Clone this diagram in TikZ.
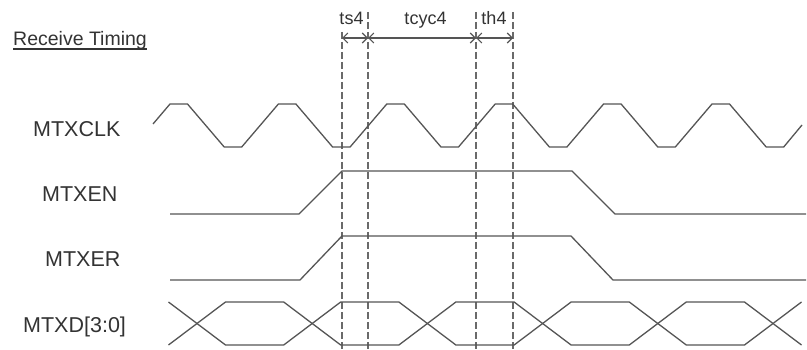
\documentclass[tikz,border=0pt]{standalone}
\usepackage{fontspec}
\setmainfont{Liberation Sans}
\usetikzlibrary{arrows.meta}
\definecolor{wave}{HTML}{555555}
\definecolor{guide}{HTML}{6A6A6A}
\definecolor{txt}{HTML}{333333}
\tikzset{
  sig/.style={draw=wave, line width=1.3pt, line join=miter},
  guideline/.style={draw=guide, line width=1.1pt, dash pattern=on 7pt off 3pt},
  meas/.style={draw=wave, line width=1.1pt, {Straight Barb[length=5pt,width=10pt]}-{Straight Barb[length=5pt,width=10pt]}},
  siglabel/.style={anchor=base west, inner sep=0, text=txt, font=\fontsize{21.5}{24}\selectfont},
  timelabel/.style={anchor=base, inner sep=0, text=txt, font=\fontsize{18}{20}\selectfont},
}
\begin{document}
\begin{tikzpicture}[x=1pt, y=-1pt]
\useasboundingbox (0,0) rectangle (807,350);
% title
\node[anchor=base west, inner sep=0, text=txt, font=\fontsize{19.5}{22}\selectfont] (rt) at (13,45.5) {Receive Timing};
\draw[draw=txt, line width=1.2pt] ([yshift=-3.5pt]rt.base west) -- ([yshift=-3.5pt]rt.base east);
% signal labels
\node[siglabel] (lclk) at (33,137) {MTXCLK};
\node[siglabel] (len) at (42,202) {MTXEN};
\node[siglabel] (ler) at (45,267) {MTXER};
\node[siglabel] (ld) at (23,332.5) {MTXD[3:0]};
% guide coordinates
\coordinate (g1t) at (342,32); \coordinate (g1b) at (342,350);
\coordinate (g2t) at (368,12); \coordinate (g2b) at (368,350);
\coordinate (g3t) at (476,12); \coordinate (g3b) at (476,350);
\coordinate (g4t) at (513,12); \coordinate (g4b) at (513,350);
\draw[guideline] (g1t) -- (g1b);
\draw[guideline] (g2t) -- (g2b);
\draw[guideline] (g3t) -- (g3b);
\draw[guideline] (g4t) -- (g4b);
% measurement arrows
\coordinate (m1) at (342,38); \coordinate (m2) at (368,38);
\coordinate (m3) at (476,38); \coordinate (m4) at (513,38);
\draw[meas] (m1) -- (m2);
\draw[meas] (m2) -- (m3);
\draw[meas] (m3) -- (m4);
\node[timelabel] (ts) at (351.5,25) {ts4};
\node[timelabel] (tc) at (425.5,25) {tcyc4};
\node[timelabel] (th) at (494,25) {th4};
% clock
\draw[sig] (153,124) foreach \k in {0,...,5} {
  -- ({170+108.4*\k},104) -- ({187.5+108.4*\k},104)
  -- ({224.2+108.4*\k},147) -- ({241.7+108.4*\k},147) } -- (802,125);
% MTXEN
\draw[sig] (170,214) -- (299,214) -- (342,171) -- (572,171) -- (615,214) -- (806,214);
% MTXER
\draw[sig] (170,280) -- (300,280) -- (342,236) -- (571,236) -- (613,280) -- (806,280);
% MTXD bus
\draw[sig] (168.5,302) -- (225.5,345) -- (283.7,345) -- (340.7,302) -- (398.9,302)
  -- (455.9,345) -- (514.1,345) -- (571.1,302) -- (629.3,302) -- (686.3,345)
  -- (744.5,345) -- (801.5,302);
\draw[sig] (168.5,345) -- (225.5,302) -- (283.7,302) -- (340.7,345) -- (398.9,345)
  -- (455.9,302) -- (514.1,302) -- (571.1,345) -- (629.3,345) -- (686.3,302)
  -- (744.5,302) -- (801.5,345);
\end{tikzpicture}
\end{document}
